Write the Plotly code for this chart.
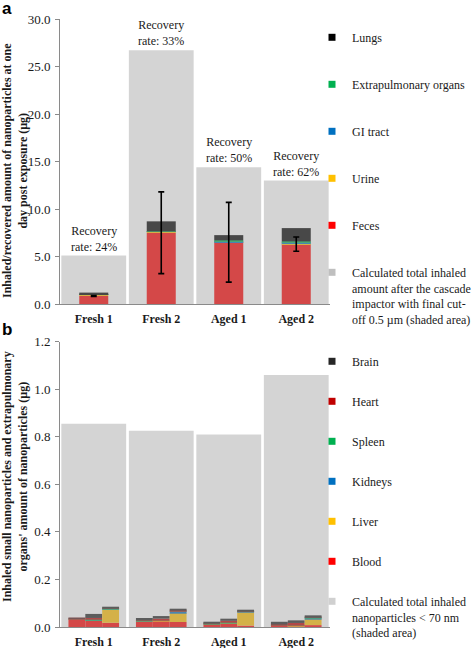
import plotly.graph_objects as go
import numpy as np

# ---------------- data ----------------
categories = ["Fresh 1", "Fresh 2", "Aged 1", "Aged 2"]

# panel a (µg)
total_inhaled_a = [5.1, 26.7, 14.4, 13.0]
recovery_rate = [24, 33, 50, 62]
feces = [0.85, 7.5, 6.5, 6.3]
feces_err = [0.05, 4.3, 4.2, 0.75]
urine = [0.1, 0.1, 0.02, 0.05]
gi_tract = [0.03, 0.02, 0.1, 0.12]
extrapulmonary = [0.05, 0.03, 0.08, 0.12]
lungs = [0.17, 1.05, 0.55, 1.4]

# panel b (µg) -- three sub-bars per group, values listed per group [bar1, bar2, bar3]
total_inhaled_b = [0.855, 0.825, 0.81, 1.06]
blood = [[0.032, 0.027, 0.018], [0.024, 0.026, 0.021], [0.013, 0.016, 0.006], [0.008, 0.005, 0.008]]
liver = [[0.0, 0.002, 0.056], [0.0, 0.002, 0.038], [0.0, 0.002, 0.057], [0.0, 0.003, 0.026]]
kidneys = [[0.0, 0.001, 0.002], [0.0, 0.0, 0.007], [0.0, 0.0, 0.002], [0.0, 0.0, 0.003]]
spleen = [[0.001, 0.002, 0.002], [0.003, 0.001, 0.001], [0.001, 0.001, 0.001], [0.001, 0.001, 0.004]]
heart = [[0.002, 0.006, 0.002], [0.001, 0.006, 0.002], [0.001, 0.007, 0.002], [0.001, 0.008, 0.002]]
brain = [[0.004, 0.017, 0.004], [0.010, 0.011, 0.004], [0.006, 0.009, 0.002], [0.012, 0.011, 0.006]]

# ---------------- styles ----------------
SERIF = "Liberation Serif"
TXT = "#1a1a1a"
AX = "#8a8a8a"
SHADE = "rgba(160,160,160,0.45)"

fig = go.Figure()

# ---- panel a stacked bars ----
series_a = [
    ("Feces", feces, "#FF0000"),
    ("Urine", urine, "#FFC000"),
    ("GI tract", gi_tract, "#0070C0"),
    ("Extrapulmonary organs", extrapulmonary, "#00B050"),
    ("Lungs", lungs, "#000000"),
]
base = np.zeros(len(categories))
for name, vals, col in series_a:
    fig.add_trace(go.Bar(x=categories, y=vals, base=base.copy(), width=0.43,
                         marker=dict(color=col, line=dict(width=0)),
                         showlegend=False, xaxis="x", yaxis="y", hoverinfo="skip"))
    base += np.array(vals)

fig.add_trace(go.Bar(x=categories, y=total_inhaled_a, width=0.96,
                     marker=dict(color=SHADE, line=dict(width=0)),
                     showlegend=False, xaxis="x", yaxis="y", hoverinfo="skip"))

fig.add_trace(go.Scatter(x=categories, y=feces, mode="markers",
                         marker=dict(size=1, color="rgba(0,0,0,0)"),
                         error_y=dict(type="data", array=feces_err, color="black",
                                      thickness=1.6, width=3),
                         showlegend=False, xaxis="x", yaxis="y", hoverinfo="skip"))

# ---- panel b stacked sub-bars ----
series_b = [
    ("Blood", blood, "#FF0000"),
    ("Liver", liver, "#FFC000"),
    ("Kidneys", kidneys, "#0070C0"),
    ("Spleen", spleen, "#00B050"),
    ("Heart", heart, "#C00000"),
    ("Brain", brain, "#262626"),
]
sub_w = 0.25
for j in range(3):
    base = np.zeros(len(categories))
    for name, vals, col in series_b:
        v = np.array([g[j] for g in vals])
        fig.add_trace(go.Bar(x=categories, y=v, base=base.copy(), width=sub_w,
                             offset=-1.5 * sub_w + j * sub_w,
                             marker=dict(color=col, line=dict(width=0)),
                             showlegend=False, xaxis="x2", yaxis="y2", hoverinfo="skip"))
        base += v

fig.add_trace(go.Bar(x=categories, y=total_inhaled_b, width=0.96,
                     marker=dict(color=SHADE, line=dict(width=0)),
                     showlegend=False, xaxis="x2", yaxis="y2", hoverinfo="skip"))

# ---- legend proxies ----
legend_a = [("Lungs", "#000000"), ("Extrapulmonary organs", "#00B050"), ("GI tract", "#0070C0"),
            ("Urine", "#FFC000"), ("Feces", "#FF0000"),
            ("Calculated total inhaled<br>amount after the cascade<br>impactor with final cut-<br>off 0.5 µm (shaded area)", "#BFBFBF")]
legend_b = [("Brain", "#262626"), ("Heart", "#C00000"), ("Spleen", "#00B050"), ("Kidneys", "#0070C0"),
            ("Liver", "#FFC000"), ("Blood", "#FF0000"),
            ("Calculated total inhaled<br>nanoparticles < 70 nm<br>(shaded area)", "#D0D0D0")]
for i, (name, col) in enumerate(legend_a):
    fig.add_trace(go.Scatter(x=[None], y=[None], mode="markers", name=name,
                             marker=dict(symbol="square", size=7, color=col),
                             legend="legend", legendgroup="a%d" % i, xaxis="x", yaxis="y"))
for i, (name, col) in enumerate(legend_b):
    fig.add_trace(go.Scatter(x=[None], y=[None], mode="markers", name=name,
                             marker=dict(symbol="square", size=7, color=col),
                             legend="legend2", legendgroup="b%d" % i, xaxis="x2", yaxis="y2"))

# ---- annotations ----
ann = []
for c, t, r in zip(categories, total_inhaled_a, recovery_rate):
    ann.append(dict(x=c, y=t, xref="x", yref="y", yanchor="bottom", showarrow=False,
                    text="Recovery<br>rate: %d%%" % r, font=dict(family=SERIF, size=12, color=TXT)))

# layout geometry (pixels)
W, H = 472, 648
ML, MR, MT, MB = 60, 142, 19, 21
PW, PH = W - ML - MR, H - MT - MB
def px_x(p):
    return (p - ML) / PW
def px_y(p):
    return (H - MB - p) / PH

ann.append(dict(x=px_x(15), y=px_y(171), xref="paper", yref="paper", textangle=-90,
                showarrow=False, xanchor="center", yanchor="middle",
                text="Inhaled/recovered amount of nanoparticles at one<br>day post exposure (µg)",
                font=dict(family=SERIF, size=12, color=TXT, weight="bold")))
ann.append(dict(x=px_x(15), y=px_y(477), xref="paper", yref="paper", textangle=-90,
                showarrow=False, xanchor="center", yanchor="middle",
                text="Inhaled small nanoparticles and extrapulmonary<br>organs' amount of nanoparticles (µg)",
                font=dict(family=SERIF, size=12, color=TXT, weight="bold")))
ann.append(dict(x=px_x(0), y=px_y(-3), xref="paper", yref="paper", xanchor="left", yanchor="top",
                showarrow=False, text="<b>a</b>", font=dict(family="Liberation Sans", size=17, color="#000")))
ann.append(dict(x=px_x(0), y=px_y(318), xref="paper", yref="paper", xanchor="left", yanchor="top",
                showarrow=False, text="<b>b</b>", font=dict(family="Liberation Sans", size=17, color="#000")))

yax_common = dict(showline=True, linecolor=AX, linewidth=1, ticks="outside", ticklen=4, tickcolor=AX,
                  showgrid=False, zeroline=False, tickformat=".1f", ticklabelstandoff=2,
                  tickfont=dict(family=SERIF, size=13, color=TXT))
xax_common = dict(showline=True, linecolor=AX, linewidth=1, ticks="", showgrid=False,
                  tickfont=dict(family=SERIF, size=12, color=TXT, weight="bold"), ticklabelstandoff=4)

leg_common = dict(xanchor="left", yanchor="top", font=dict(family=SERIF, size=12, color=TXT),
                  itemwidth=30, valign="top", bgcolor="rgba(0,0,0,0)", itemclick=False)

fig.update_layout(
    width=W, height=H, margin=dict(l=ML, r=MR, t=MT, b=MB, autoexpand=False),
    paper_bgcolor="white", plot_bgcolor="white", barmode="overlay",
    xaxis=dict(domain=[0, 1], anchor="y", **xax_common),
    yaxis=dict(domain=[px_y(304), 1], anchor="x", range=[0, 30], dtick=5, **yax_common),
    xaxis2=dict(domain=[0, 1], anchor="y2", **xax_common),
    yaxis2=dict(domain=[0, px_y(341.7)], anchor="x2", range=[0, 1.2], dtick=0.2, **yax_common),
    legend=dict(x=px_x(312), y=px_y(23), tracegroupgap=28, **leg_common),
    legend2=dict(x=px_x(312), y=px_y(347), tracegroupgap=21, **leg_common),
    annotations=ann,
    showlegend=True,
)

fig.write_html("out.html", config={"displayModeBar": False},
               post_script="document.body.style.margin='0';document.body.style.overflow='hidden';")
